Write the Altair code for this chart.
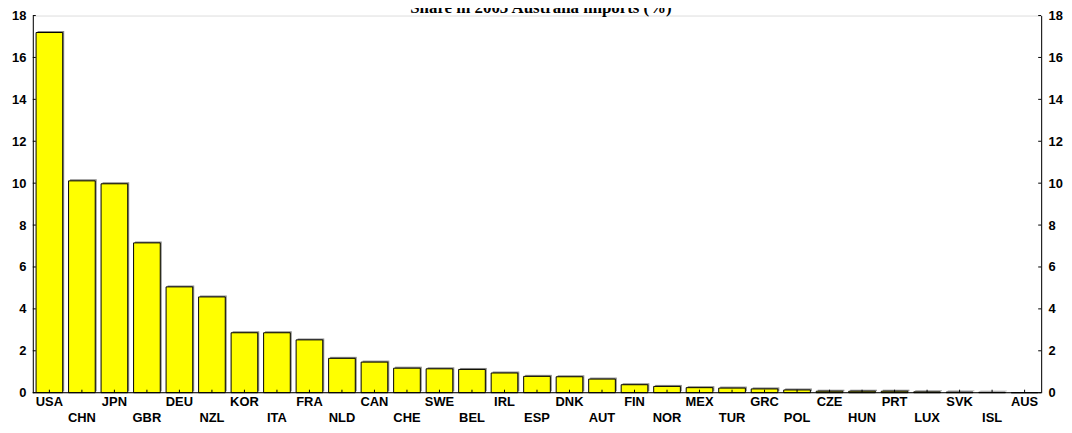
import altair as alt
import pandas as pd

countries = ["USA", "CHN", "JPN", "GBR", "DEU", "NZL", "KOR", "ITA", "FRA", "NLD",
             "CAN", "CHE", "SWE", "BEL", "IRL", "ESP", "DNK", "AUT", "FIN", "NOR",
             "MEX", "TUR", "GRC", "POL", "CZE", "HUN", "PRT", "LUX", "SVK", "ISL", "AUS"]
shares = [17.19, 10.11, 9.97, 7.15, 5.05, 4.57, 2.86, 2.86, 2.52, 1.64,
          1.46, 1.17, 1.14, 1.11, 0.94, 0.78, 0.76, 0.65, 0.38, 0.30,
          0.24, 0.22, 0.18, 0.13, 0.07, 0.07, 0.07, 0.04, 0.03, 0.02, 0.0]
y_ticks = [0, 2, 4, 6, 8, 10, 12, 14, 16, 18]
title_text = "Share in 2003 Australia imports (%)"

df = pd.DataFrame({"country": countries, "share": shares,
                   "row": [i % 2 for i in range(len(countries))]})
df_ticks = pd.DataFrame({"share": y_ticks})

W, H = 1016, 380
FONT = "Liberation Sans"

xscale = alt.Scale(domain=countries, paddingInner=0.18, paddingOuter=0.1)
ydom = alt.Scale(domain=[0, 18], nice=False)

x_enc = alt.X("country:N", sort=countries, scale=xscale, axis=None)


def y_axis(orient):
    return alt.Axis(orient=orient, values=y_ticks, grid=False, title=None, ticks=False,
                    labelFont=FONT, labelFontWeight="bold", labelFontSize=13, labelColor="black",
                    domainColor="black", domainWidth=1, labelPadding=7)


LEFT = y_axis("left")
base = alt.Chart(df)

shadow = base.mark_bar(color="#8a8a8a", xOffset=1.5, yOffset=-1.5).encode(
    x=x_enc,
    y=alt.Y("share:Q", scale=ydom, axis=LEFT),
)

bars = base.mark_bar(color="#ffff00", stroke="black", strokeWidth=1).encode(
    x=x_enc,
    y=alt.Y("share:Q", scale=ydom, axis=LEFT),
)

bottom_line = base.mark_rule(color="black", strokeWidth=1).encode(
    x=alt.value(0), x2=alt.value(W), y=alt.value(H)
).transform_filter(alt.datum.country == "USA")

xticks = base.mark_rule(color="black", strokeWidth=1).encode(
    x=x_enc, y=alt.value(H), y2=alt.value(H - 3)
)

lticks = alt.Chart(df_ticks).mark_rule(color="black", strokeWidth=1).encode(
    y=alt.Y("share:Q", scale=ydom, axis=LEFT), x=alt.value(0), x2=alt.value(3)
)
rticks = alt.Chart(df_ticks).mark_rule(color="black", strokeWidth=1).encode(
    y=alt.Y("share:Q", scale=ydom, axis=LEFT), x=alt.value(W - 3), x2=alt.value(W)
)

lab1 = base.mark_text(font=FONT, fontWeight="bold", fontSize=13, color="black",
                      baseline="middle").encode(
    x=x_enc, y=alt.value(389), text="country:N"
).transform_filter(alt.datum.row == 0)

lab2 = base.mark_text(font=FONT, fontWeight="bold", fontSize=13, color="black",
                      baseline="middle").encode(
    x=x_enc, y=alt.value(406), text="country:N"
).transform_filter(alt.datum.row == 1)

title = base.mark_text(font="Liberation Serif", fontWeight="bold", fontSize=17, color="black",
                       baseline="alphabetic", align="center").encode(
    x=alt.value(W / 2 + 4), y=alt.value(-3), text=alt.value(title_text)
).transform_filter(alt.datum.country == "USA")

right = base.mark_bar(opacity=0).encode(
    x=x_enc,
    y=alt.Y("share:Q", scale=ydom, axis=y_axis("right")),
)

left_layer = alt.layer(shadow, bars, xticks, lticks, rticks, bottom_line, lab1, lab2, title)
chart = alt.layer(left_layer, right).resolve_scale(y="independent").properties(
    width=W, height=H,
    autosize=alt.AutoSizeParams(type="none"),
    padding={"left": 25, "top": 6, "right": 23, "bottom": 37},
).configure_view(stroke=None).configure(background="white")

chart.save("out.html", embed_options={"renderer": "svg", "actions": False})
